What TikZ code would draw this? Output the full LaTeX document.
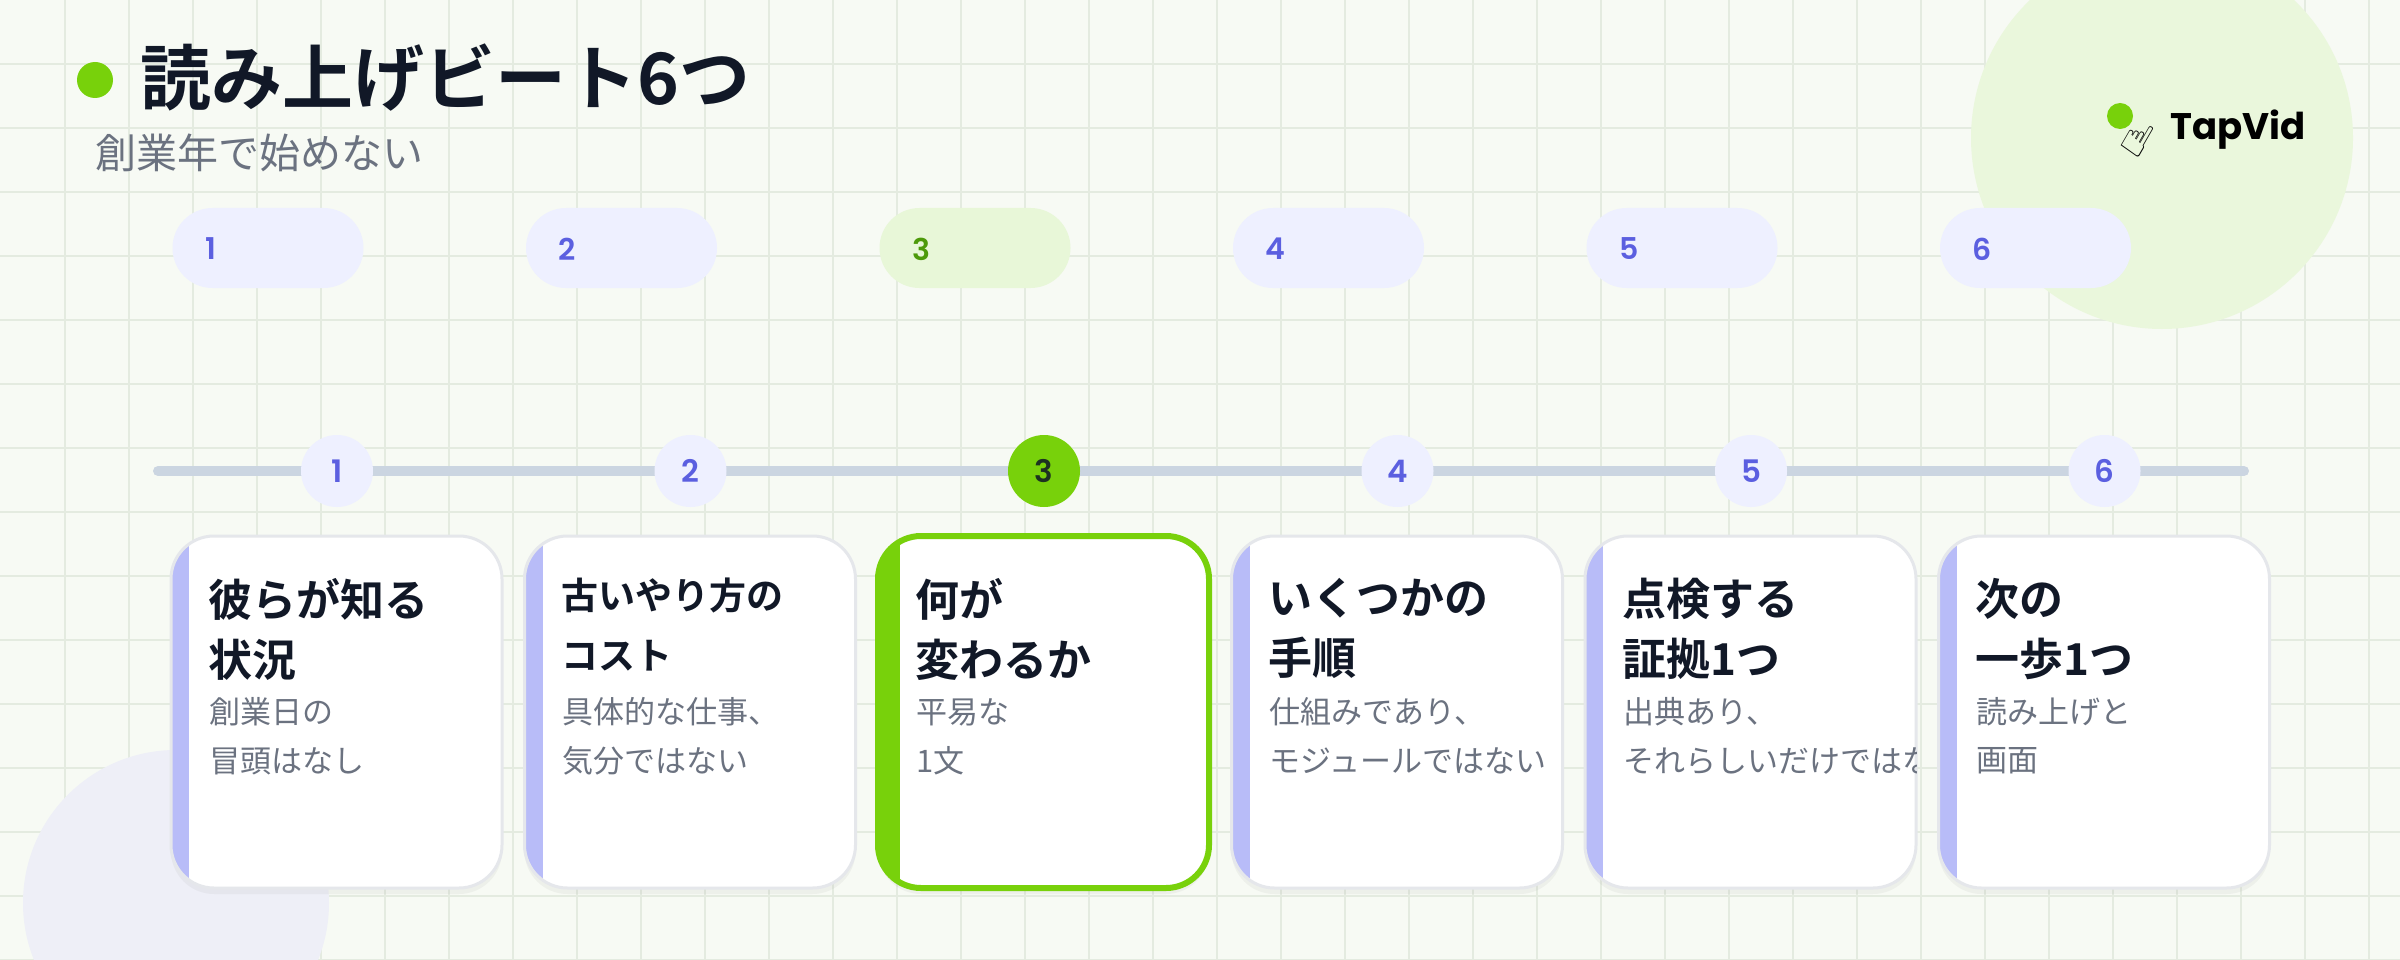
\documentclass[tikz,border=0pt]{standalone}
\usepackage{fontspec}
\setmainfont{Noto Sans CJK JP}
\newfontfamily\jpb{Noto Sans CJK JP Bold}
\newfontfamily\popb{Poppins SemiBold}
\newfontfamily\popbb{Poppins Bold}
\newfontfamily\dejavu{DejaVu Sans}
\usetikzlibrary{shadows}
\definecolor{bg}{HTML}{F7FAF4}
\definecolor{gridc}{HTML}{E4EBE0}
\definecolor{gcirc}{HTML}{EAF7DC}
\definecolor{pcirc}{HTML}{EEEFF7}
\definecolor{green}{HTML}{78D10B}
\definecolor{dgreen}{HTML}{4D9A0A}
\definecolor{ink}{HTML}{111827}
\definecolor{sub}{HTML}{6B7280}
\definecolor{pill}{HTML}{EEF0FF}
\definecolor{pillg}{HTML}{E8F7D8}
\definecolor{indi}{HTML}{5B5FE0}
\definecolor{line}{HTML}{CBD5E1}
\definecolor{bord}{HTML}{E5E7EB}
\definecolor{bar}{HTML}{B8BCF8}
\tikzset{
  pillst/.style={fill=#1,rounded corners=40pt,minimum width=191pt,minimum height=80pt,inner sep=0pt},
  dot/.style={circle,fill=#1,minimum size=72pt,inner sep=0pt},
  cardtitle/.style={anchor=north west,inner sep=0pt,text=ink,align=left},
  cardsub/.style={anchor=west,inner sep=0pt,text=sub,font=\fontsize{31}{40}\selectfont},
}
\begin{document}
\begin{tikzpicture}[x=1pt,y=-1pt]
\useasboundingbox (0,0) rectangle (2400,960);
\fill[bg] (0,0) rectangle (2400,960);
\foreach \i in {1,...,37} \draw[gridc,line width=1.2pt] (\i*64+1,0) -- (\i*64+1,960);
\foreach \i in {1,...,15} \draw[gridc,line width=1.2pt] (0,\i*64) -- (2400,\i*64);
\fill[gcirc] (2162,138) circle (191);
\fill[pcirc] (176,903) circle (153);
% title
\fill[green] (95,80) circle (18);
\node[anchor=west,inner sep=0pt,text=ink,font=\jpb\fontsize{71}{76}\selectfont] (title) at (140,78) {読み上げビート6つ};
\node[anchor=west,inner sep=0pt,text=sub,font=\fontsize{41}{44}\selectfont] (subtitle) at (95,153) {創業年で始めない};
% logo
\fill[green] (2120,116) circle (13);
\node[inner sep=0pt,rotate=-30,font=\dejavu\fontsize{46}{46}\selectfont] (hand) at (2138,138) {☝};
\node[anchor=west,inner sep=0pt,font=\popbb\fontsize{37}{40}\selectfont] (logo) at (2170,130) {TapVid};
% timeline
\coordinate (tl0) at (158,471);
\coordinate (tl1) at (2244,471);
\draw[line,line width=10pt,line cap=round] (tl0) -- (tl1);
\foreach \k/\t/\ta/\s/\sa in {
 1/{彼らが知る\\状況}/44/{創業日の}/{冒頭はなし},
 2/{古いやり方の\\コスト}/37/{具体的な仕事、}/{気分ではない},
 3/{何が\\変わるか}/44/{平易な}/{1文},
 4/{いくつかの\\手順}/44/{仕組みであり、}/{モジュールではない},
 5/{点検する\\証拠1つ}/44/{出典あり、}/{それらしいだけではない},
 6/{次の\\一歩1つ}/44/{読み上げと}/{画面}}{
  \pgfmathsetmacro{\cx}{268+(\k-1)*353.5}
  \pgfmathsetmacro{\dx}{337+(\k-1)*353.5}
  \pgfmathsetmacro{\lx}{171+(\k-1)*353.5}
  \ifnum\k=3
    \node[pillst=pillg] (pill\k) at (\cx,248) {};
    \node[anchor=west,inner sep=0pt,text=dgreen,font=\popb\fontsize{30}{30}\selectfont] (pn\k) at (\lx+34,249) {\k};
    \node[dot=green,text=ink!80!dgreen,font=\popb\fontsize{31}{31}\selectfont] (dot\k) at (\dx,471) {\k};
    \fill[white,drop shadow={opacity=0.08,shadow xshift=0pt,shadow yshift=-6pt}] (\lx,536) [rounded corners=43pt] rectangle (\lx+331,888);
    \begin{scope}
      \clip[rounded corners=43pt] (\lx,536) rectangle (\lx+331,888);
      \fill[green] (\lx,536) rectangle (\lx+22,888);
    \end{scope}
    \draw[green,line width=6pt,rounded corners=43pt] (\lx,536) rectangle (\lx+331,888);
  \else
    \node[pillst=pill] (pill\k) at (\cx,248) {};
    \node[anchor=west,inner sep=0pt,text=indi,font=\popb\fontsize{30}{30}\selectfont] (pn\k) at (\lx+34,249) {\k};
    \node[dot=pill,text=indi,font=\popb\fontsize{31}{31}\selectfont] (dot\k) at (\dx,471) {\k};
    \fill[white,drop shadow={opacity=0.08,shadow xshift=0pt,shadow yshift=-6pt}] (\lx,536) [rounded corners=43pt] rectangle (\lx+331,888);
    \begin{scope}
      \clip[rounded corners=43pt] (\lx,536) rectangle (\lx+331,888);
      \fill[bar] (\lx,536) rectangle (\lx+18,888);
    \end{scope}
    \draw[bord,line width=3pt,rounded corners=43pt] (\lx,536) rectangle (\lx+331,888);
  \fi
  \node[cardtitle,font=\jpb\fontsize{\ta}{60}\selectfont] (ct\k) at (\lx+37,578) {\t};
  \begin{scope}
    \clip (\lx,536) rectangle (\lx+331,888);
    \node[cardsub] (cs\k) at (\lx+38,712) {\s};
    \node[cardsub] (cd\k) at (\lx+38,761) {\sa};
  \end{scope}
}
\end{tikzpicture}
\end{document}
